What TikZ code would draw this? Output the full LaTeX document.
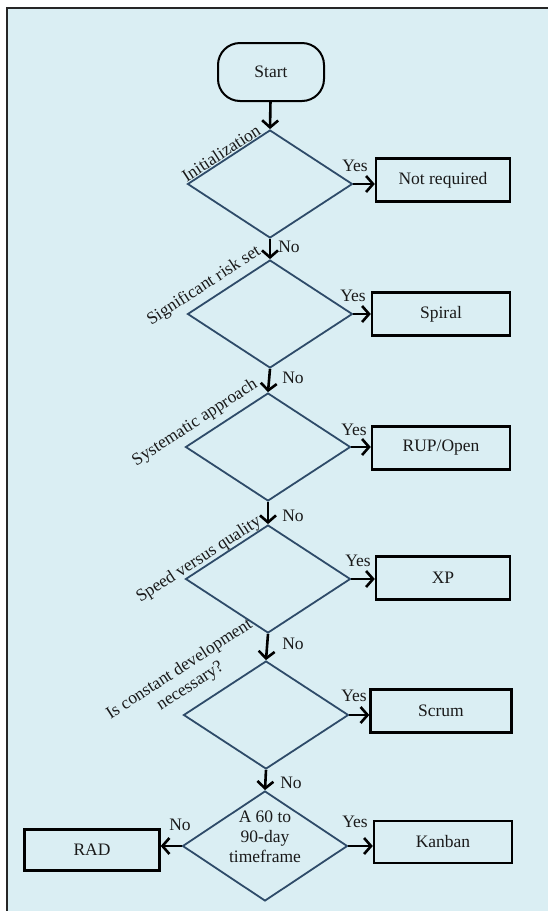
\documentclass[tikz,border=0pt]{standalone}
\usepackage{fontspec}
\setmainfont{Liberation Serif}
\usetikzlibrary{shapes.geometric,arrows.meta}
\definecolor{bgcol}{HTML}{DAEEF3}
\definecolor{diacol}{HTML}{2E4B69}
\definecolor{txtcol}{HTML}{1A1A1A}
\tikzset{
  every node/.style={font=\fontsize{17.5}{20}\selectfont, text=txtcol},
  dia/.style={diamond, draw=diacol, line width=1.8pt, minimum width=165pt, minimum height=108pt, inner sep=0pt, aspect=1.5},
  outbox/.style={rectangle, draw=black, line width=2.4pt, minimum height=43pt, inner sep=0pt},
  term/.style={rectangle, rounded corners=22pt, draw=black, line width=2pt, minimum width=106pt, minimum height=58pt},
  arr/.style={draw=black, line width=2.6pt, -{Straight Barb[length=7pt,width=16pt]}},
  cond/.style={rotate=33, align=center},
  lbl/.style={inner sep=0pt}
}
\begin{document}
\begin{tikzpicture}[x=1pt,y=-1pt]
\useasboundingbox (0,0) rectangle (548,911);
\fill[bgcol] (7,8) rectangle (548,911);
\draw[line width=2.2pt, black!85] (7,911) -- (7,8) -- (548,8);

\node[term] (start) at (271,72) {Start};

\node[dia] (d1) at (270,184) {};
\node[dia] (d2) at (270,314) {};
\node[dia] (d3) at (268,447) {};
\node[dia] (d4) at (268,579) {};
\node[dia] (d5) at (266,715) {};
\node[dia, minimum height=110pt] (d6) at (265,846) {};
\node[align=center, lbl] (d6t) at (265,837) {A 60 to\\90-day\\timeframe};

\node[outbox, minimum width=134pt] (nr) at (443,180) {Not required};
\node[outbox, minimum width=138pt] (spiral) at (441,314) {Spiral};
\node[outbox, minimum width=138pt] (rup) at (441,448) {RUP/Open};
\node[outbox, minimum width=134pt] (xp) at (443,578) {XP};
\node[outbox, minimum width=141pt] (scrum) at (441,711) {Scrum};
\node[outbox, minimum width=138pt, minimum height=42pt] (kanban) at (443,842) {Kanban};
\node[outbox, minimum width=135pt, minimum height=41pt] (rad) at (92,850) {RAD};

\node[cond] (c1) at (221,153) {Initialization};
\node[cond] (c2) at (204,286) {Significant risk set};
\node[cond] (c3) at (195,423) {Systematic approach};
\node[cond] (c4) at (199,560) {Speed versus quality};
\node[cond, inner sep=0pt] (c5) at (185,678) {Is constant development\\necessary?};

\draw[arr] (start) -- (d1.north);
\draw[arr] (d1.south) -- (d2.north);
\draw[arr] (d2.south) -- (d3.north);
\draw[arr] (d3.south) -- (d4.north);
\draw[arr] (d4.south) -- (d5.north);
\draw[arr] (d5.south) -- (d6.north);

\draw[arr] (d1.east) -- (d1.east -| nr.west);
\draw[arr] (d2.east) -- (d2.east -| spiral.west);
\draw[arr] (d3.east) -- (d3.east -| rup.west);
\draw[arr] (d4.east) -- (d4.east -| xp.west);
\draw[arr] (d5.east) -- (d5.east -| scrum.west);
\draw[arr] (d6.east) -- (d6.east -| kanban.west);
\draw[arr] (d6.west) -- (d6.west -| rad.east);

\node[lbl] (y1) at (355,166) {Yes};
\node[lbl] (y2) at (353,296) {Yes};
\node[lbl] (y3) at (354,430) {Yes};
\node[lbl] (y4) at (358,561) {Yes};
\node[lbl] (y5) at (354,696) {Yes};
\node[lbl] (y6) at (355,822) {Yes};

\node[lbl] (n1) at (289,247) {No};
\node[lbl] (n2) at (293,378) {No};
\node[lbl] (n3) at (293,516) {No};
\node[lbl] (n4) at (293,644) {No};
\node[lbl] (n5) at (291,783) {No};
\node[lbl] (n6) at (180,825) {No};
\end{tikzpicture}
\end{document}
